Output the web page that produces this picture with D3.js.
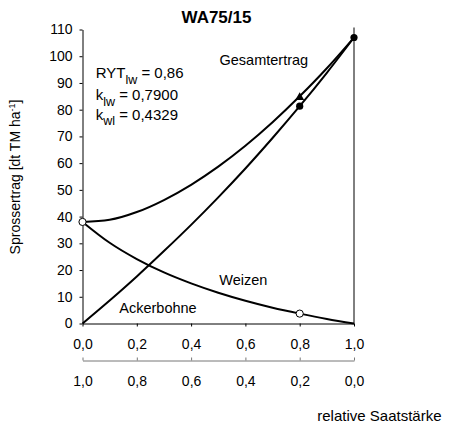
<!DOCTYPE html>
<html>
<head>
<meta charset="utf-8">
<script src="https://cdn.jsdelivr.net/npm/d3@7"></script>
<style>
  html, body { margin: 0; padding: 0; background: #fff; }
  svg { display: block; font-family: "Liberation Sans", Arial, sans-serif; }
</style>
</head>
<body>
<svg id="chart" width="451" height="428"></svg>
<script>
// Relative seeding proportion of faba bean (Ackerbohne) in the mixture
const saatAnteil = [0, 0.1, 0.2, 0.3, 0.4, 0.5, 0.6, 0.7, 0.8, 0.9, 1.0];

// Fitted shoot yields [dt TM/ha] along the replacement series
const ackerbohne = [0, 8.6, 17.6, 27.1, 36.9, 47.2, 58.0, 69.4, 81.3, 93.8, 107.0];
const weizen     = [38.0, 30.2, 24.1, 19.1, 15.0, 11.5, 8.5, 5.9, 3.7, 1.7, 0];
const gesamt     = [38.0, 38.8, 41.7, 46.2, 51.9, 58.7, 66.5, 75.3, 85.0, 95.5, 107.0];

// Measured yields
const ackerbohneMess = [[0.8, 81.3], [1.0, 107.0]];
const weizenMess     = [[0.0, 38.0], [0.8, 3.7]];
const gesamtMess     = [[0.8, 84.6]];

const yTicks = [0, 10, 20, 30, 40, 50, 60, 70, 80, 90, 100, 110];
const xTicks = [0, 0.2, 0.4, 0.6, 0.8, 1.0];

const svg = d3.select("#chart");

const x = d3.scaleLinear().domain([0, 1]).range([82.5, 354]);
const xRev = d3.scaleLinear().domain([1, 0]).range([82.5, 354]);
const y = d3.scaleLinear().domain([0, 110]).range([323.5, 29.5]);

const fmt = v => d3.format(".1f")(v).replace(".", ",");

// Title
svg.append("text")
  .attr("x", 216.5).attr("y", 22.5)
  .attr("text-anchor", "middle")
  .style("font-weight", "bold").style("font-size", "17px")
  .text("WA75/15");

// Left axis
const yAxis = svg.append("g")
  .attr("transform", "translate(82.5,0)")
  .call(d3.axisLeft(y).tickValues(yTicks).tickSize(3).tickSizeOuter(0).tickPadding(7));

// Bottom axis (faba bean proportion)
const xAxis = svg.append("g")
  .attr("transform", "translate(0,323.5)")
  .call(d3.axisBottom(x).tickValues(xTicks).tickFormat(fmt).tickSize(3).tickSizeOuter(0).tickPadding(13));

// Second axis (wheat proportion), ticks pointing up
const x2Axis = svg.append("g")
  .attr("transform", "translate(0,360.5)")
  .call(d3.axisBottom(xRev).tickValues(xTicks).tickFormat(fmt).tickSize(-3).tickSizeOuter(0).tickPadding(16));

[yAxis, xAxis, x2Axis].forEach(g => {
  g.selectAll("text").style("font-size", "14px").attr("fill", "#000")
    .style("font-family", "'Liberation Sans', Arial, sans-serif");
});
yAxis.selectAll("path, line").attr("stroke", "#000");
xAxis.selectAll("path, line").attr("stroke", "#000");
x2Axis.selectAll("path, line").attr("stroke", "#777");

// Right frame line
svg.append("line")
  .attr("x1", x(1)).attr("x2", x(1))
  .attr("y1", y(110) - 2).attr("y2", y(0))
  .attr("stroke", "#000");

// Curves
const line = d3.line()
  .x((d, i) => x(saatAnteil[i]))
  .y(d => y(d))
  .curve(d3.curveMonotoneX);

[gesamt, ackerbohne, weizen].forEach(series => {
  svg.append("path")
    .attr("d", line(series))
    .attr("fill", "none")
    .attr("stroke", "#000")
    .attr("stroke-width", 2);
});

// Markers
svg.selectAll(".tri").data(gesamtMess).enter().append("path")
  .attr("d", d3.symbol().type(d3.symbolTriangle).size(34))
  .attr("transform", d => `translate(${x(d[0])},${y(d[1])})`)
  .attr("fill", "#000");

svg.selectAll(".ab").data(ackerbohneMess).enter().append("circle")
  .attr("cx", d => x(d[0])).attr("cy", d => y(d[1])).attr("r", 3.6)
  .attr("fill", "#000");

svg.selectAll(".wz").data(weizenMess).enter().append("circle")
  .attr("cx", d => x(d[0])).attr("cy", d => y(d[1])).attr("r", 3.6)
  .attr("fill", "#fff").attr("stroke", "#000").attr("stroke-width", 1);

// Series labels
const lbl = (tx, ty, s) => svg.append("text")
  .attr("x", tx).attr("y", ty).style("font-size", "14.5px").text(s);
lbl(219.5, 65.3, "Gesamtertrag");
lbl(219.3, 285, "Weizen");
lbl(119.3, 312.7, "Ackerbohne");

// Competition indices
const idx = (ty, main, sub, rest) => {
  const t = svg.append("text").attr("x", 95.7).attr("y", ty).style("font-size", "15px");
  t.append("tspan").text(main);
  t.append("tspan").attr("dy", 5.5).style("font-size", "12.5px").text(sub);
  t.append("tspan").attr("dy", -5.5).text(rest);
};
idx(78.3, "RYT", "lw", " = 0,86");
idx(100, "k", "lw", " = 0,7900");
idx(119.5, "k", "wl", " = 0,4329");

// Axis titles
const yt = svg.append("text")
  .attr("transform", "translate(20,177) rotate(-90)")
  .attr("text-anchor", "middle")
  .style("font-size", "14px");
yt.append("tspan").text("Sprossertrag [dt TM ha");
yt.append("tspan").attr("dy", -5).style("font-size", "9px").text("-1");
yt.append("tspan").attr("dy", 5).text("]");

svg.append("text")
  .attr("x", 441.5).attr("y", 421)
  .attr("text-anchor", "end")
  .style("font-size", "15px")
  .text("relative Saatstärke");
</script>
</body>
</html>
